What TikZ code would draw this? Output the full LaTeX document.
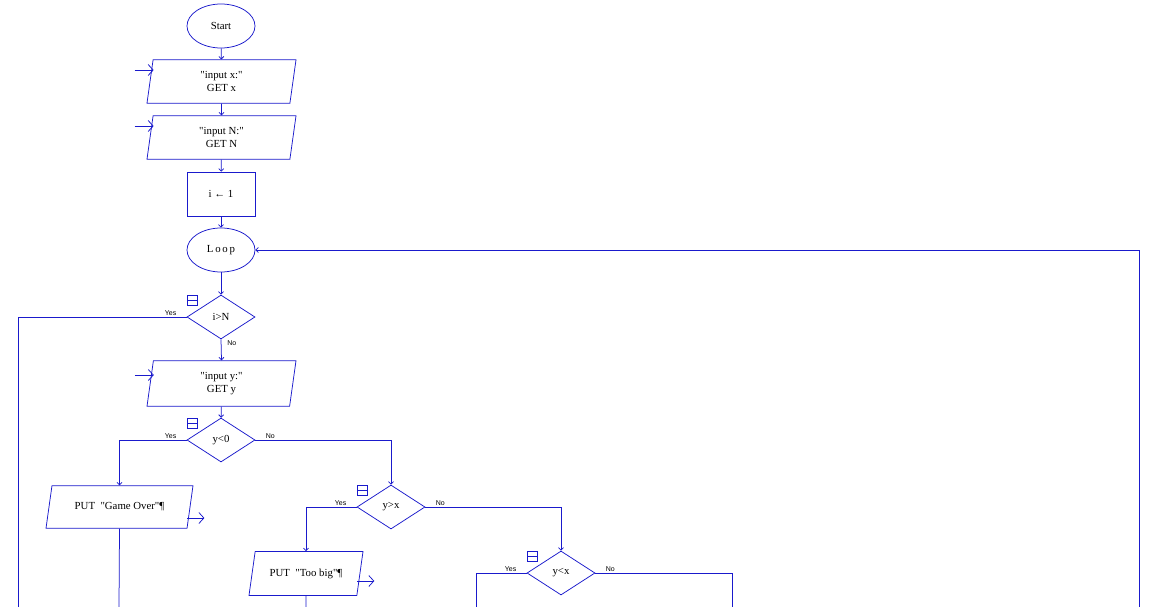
\documentclass[tikz,border=0pt]{standalone}
\usepackage{fontspec}
\newfontfamily\flowfont{Liberation Serif}
\newfontfamily\lblfont{Liberation Sans}
\usetikzlibrary{shapes.geometric,arrows.meta}
\definecolor{flowblue}{RGB}{26,26,204}
\tikzset{
  every node/.style={text=black, font=\flowfont\fontsize{10.8}{13}\selectfont},
  term/.style={ellipse, draw, minimum width=68pt, minimum height=44pt, inner sep=0pt},
  proc/.style={rectangle, draw, minimum width=68pt, minimum height=44pt, inner sep=0pt},
  dec/.style={diamond, draw, minimum width=68pt, minimum height=44pt, inner sep=0pt},
  iobox/.style={trapezium, trapezium left angle=82, trapezium right angle=98,
    trapezium stretches body, draw, inner xsep=1pt, inner ysep=11.5pt, align=center},
  oneline/.style={inner ysep=17pt},
  fold/.style={rectangle, draw, minimum size=10pt, inner sep=0pt,
    path picture={\draw (path picture bounding box.west) -- (path picture bounding box.east);}},
  flow/.style={-{Straight Barb[length=2.5pt,width=5pt]}},
  inarr/.style={-{Straight Barb[length=5pt,width=11pt]}},
  yes/.style={font=\lblfont\fontsize{7}{8}\selectfont, inner sep=1pt, anchor=south east, xshift=-9pt},
  no/.style={font=\lblfont\fontsize{7}{8}\selectfont, inner sep=1pt, anchor=south west, xshift=9pt}
}
\begin{document}
\begin{tikzpicture}[x=1pt,y=-1pt,line width=0.75pt,color=flowblue]
\fill[white] (0,0) rectangle (1156,607);
\useasboundingbox (0,0) rectangle (1156,607);

\node[term] (start) at (221,26) {Start};
\node[iobox, minimum width=149pt] (inx) at (221.5,81.5) {"input x:"\\GET x};
\node[iobox, minimum width=149pt] (inN) at (221.5,137.5) {"input N:"\\GET N};
\node[proc] (init) at (221,194) {i ← 1};
\node[term] (loop) at (221,250) {L\,o\,o\,p};
\node[dec] (iN) at (221,317) {i>N};
\node[iobox, minimum width=149pt] (iny) at (221.5,383.5) {"input y:"\\GET y};
\node[dec] (y0) at (221,440) {y<0};
\node[iobox, oneline, minimum width=147pt] (go) at (119.5,507) {PUT \ "Game Over"¶};
\node[dec] (yx) at (391,507) {y>x};
\node[iobox, oneline, minimum width=114pt] (big) at (306,573.5) {PUT \ "Too big"¶};
\node[dec] (ylx) at (561,573) {y<x};

% collapse marks
\node[fold] (fN) at (192,300) {};
\node[fold] (f0) at (192,423) {};
\node[fold] (fx) at (362,490) {};
\node[fold] (flx) at (532,556) {};

% open ends at the bottom edge
\coordinate (endN) at (18,607);
\coordinate (endgo) at (119,607);
\coordinate (endbig) at (306,607);
\coordinate (endlt) at (476,607);
\coordinate (endeq) at (732,607);
\coordinate (back) at (1139,607);

\draw[flow] (start) -- (inx);
\draw[flow] (inx) -- (inN);
\draw[flow] (inN) -- (init);
\draw[flow] (init) -- (loop);
\draw[flow] (loop) -- (iN);
\draw (iN.west) node[yes] {Yes} -| (endN);
\draw[flow] (iN.south) node[no, anchor=north west, xshift=-4pt] {No} -- (iny.north);
\draw[flow] (iny) -- (y0);
\draw[flow] (y0.west) node[yes] {Yes} -| (go.north);
\draw[flow] (y0.east) node[no] {No} -| (yx.north);
\draw (go.south) -- (endgo);
\draw[flow] (yx.west) node[yes] {Yes} -| (big.north);
\draw[flow] (yx.east) node[no] {No} -| (ylx.north);
\draw (big.south) -- (endbig);
\draw (ylx.west) node[yes] {Yes} -| (endlt);
\draw (ylx.east) node[no] {No} -| (endeq);
\draw[flow] (back) |- (loop.east);

% input / output marks
\draw[inarr] ([shift={(-15,-11.5)}]inx.west) -- ++(19,0);
\draw[inarr] ([shift={(-15,-11.5)}]inN.west) -- ++(19,0);
\draw[inarr] ([shift={(-15,-8.5)}]iny.west) -- ++(19,0);
\draw[inarr] ([shift={(-3,11)}]go.east) -- ++(17,0);
\draw[inarr] ([shift={(-3,7.5)}]big.east) -- ++(17,0);
\end{tikzpicture}
\end{document}
